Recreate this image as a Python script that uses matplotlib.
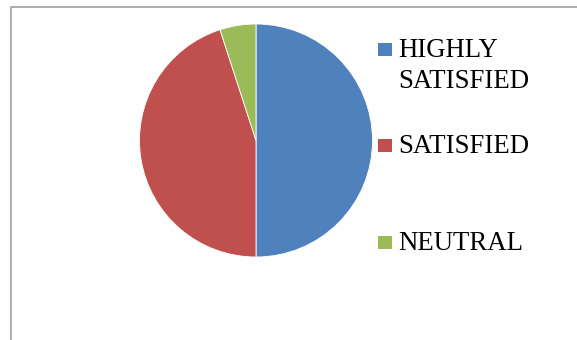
import matplotlib.pyplot as plt
import matplotlib.patches as mpatches

# data
labels = ["HIGHLY\nSATISFIED", "SATISFIED", "NEUTRAL"]
values = [50, 45, 5]
colors = ["#4F81BD", "#C0504D", "#9BBB59"]

W, H = 577, 340
fig = plt.figure(figsize=(W / 100, H / 100), dpi=100)

# chart frame (runs off the right and bottom edge)
fig.patches.append(mpatches.Rectangle((11 / W, -0.05), 1.1, (H - 7) / H + 0.05,
                                      transform=fig.transFigure, fill=False,
                                      edgecolor="#A0A0A0", linewidth=1.2))

# pie
cx, cy, r = 256, 140.5, 116.5
ax = fig.add_axes([(cx - r) / W, (H - cy - r) / H, 2 * r / W, 2 * r / H])
ax.pie(values, colors=colors, startangle=90, counterclock=False,
       wedgeprops=dict(edgecolor="white", linewidth=0.6))
ax.set_xlim(-1, 1)
ax.set_ylim(-1, 1)
ax.set_aspect("equal", adjustable="box")
ax.axis("off")

# legend, drawn by hand; baseline (px from top) of each entry's first line
baselines = [57, 153, 250]
pitch = 31
for lab, col, by in zip(labels, colors, baselines):
    fig.patches.append(mpatches.Rectangle((378 / W, 1 - (by - 1) / H), 13.5 / W, 13.5 / H,
                                          transform=fig.transFigure,
                                          facecolor=col, edgecolor="none"))
    for i, line in enumerate(lab.split("\n")):
        fig.text(398 / W, 1 - (by + i * pitch) / H, line, ha="left", va="baseline",
                 fontsize=19.3, family="Liberation Serif", color="black")

fig.savefig("out.png", dpi=100)
